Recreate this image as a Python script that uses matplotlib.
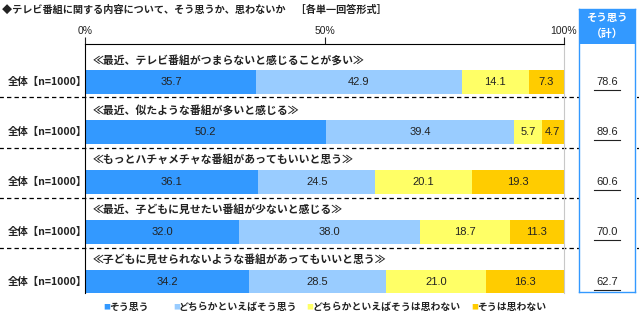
import numpy as np
import matplotlib.pyplot as plt

plt.rcParams['font.family'] = ['Noto Sans CJK JP', 'DejaVu Sans']

# survey items and answer shares (%)
items = [
    "≪最近、テレビ番組がつまらないと感じることが多い≫",
    "≪最近、似たような番組が多いと感じる≫",
    "≪もっとハチャメチャな番組があってもいいと思う≫",
    "≪最近、子どもに見せたい番組が少ないと感じる≫",
    "≪子どもに見せられないような番組があってもいいと思う≫",
]
row_label = "全体【n=1000】"
answers = ["そう思う", "どちらかといえばそう思う", "どちらかといえばそうは思わない", "そうは思わない"]
agree = [35.7, 50.2, 36.1, 32.0, 34.2]
rather_agree = [42.9, 39.4, 24.5, 38.0, 28.5]
rather_disagree = [14.1, 5.7, 20.1, 18.7, 21.0]
disagree = [7.3, 4.7, 19.3, 11.3, 16.3]
colors = ["#3399FF", "#99CCFF", "#FFFF66", "#FFCC00"]

W, H = 639, 322
fig = plt.figure(figsize=(W / 100, H / 100), dpi=100)

def fx(px):
    return px / W

def fy(py):
    return 1 - py / H

# main bar axes (pixel layout: x 85.5..564, y 44..293)
ax = fig.add_axes([fx(85.5), fy(293), fx(564) - fx(85.5), fy(44) - fy(293)])
pitch = 50.0
top_i = (44 - 82) / pitch
bot_i = (293 - 82) / pitch
ax.set_xlim(0, 100)
ax.set_ylim(bot_i, top_i)

series = np.array([agree, rather_agree, rather_disagree, disagree])
rows = np.arange(len(items))
left = np.zeros(len(items))
for vals, c in zip(series, colors):
    ax.barh(rows, vals, left=left, height=0.48, color=c, edgecolor="none")
    for r, v, l in zip(rows, vals, left):
        ax.text(l + v / 2, r, f"{v:.1f}", ha="center", va="center",
                fontsize=8, family="Liberation Sans", color="#222222")
    left += vals

for r, name in zip(rows, items):
    ax.text(1.6, r - 0.44, name, ha="left", va="center", fontsize=7.8,
            fontweight="bold", color="#222222")
    ax.text(0.3, r, row_label, ha="right", va="center", fontsize=7.5,
            fontweight="bold", color="#222222")

# dashed separators across the whole width
for r in rows[:-1]:
    ax.axhline(r + 0.31, xmin=-0.18, xmax=1.16, color="black", lw=0.9,
               ls=(0, (3.5, 2.5)), clip_on=False)

ax.spines["bottom"].set_visible(False)
ax.spines["left"].set_color("black")
ax.spines["top"].set_color("black")
ax.spines["right"].set_color("#C8C8C8")
ax.xaxis.tick_top()
ax.set_xticks([0, 50, 100])
ax.set_xticklabels(["0%", "50%", "100%"], family="Liberation Sans")
ax.tick_params(axis="x", length=5, width=0.8, pad=1, labelsize=7.5, colors="#222222")
ax.set_yticks([])

# total "agree" box on the right
totals = np.array(agree) + np.array(rather_agree)
bx = fig.add_axes([fx(579), fy(292), fx(635) - fx(579), fy(9) - fy(292)])
bx.set_xlim(0, 1)
bx.set_ylim((292 - 82) / pitch, (9 - 82) / pitch)
hdr_bottom = (44 - 82) / pitch
bx.axhspan((9 - 82) / pitch, hdr_bottom, color="#3399FF", lw=0)
bx.text(0.5, (18 - 82) / pitch, "そう思う", ha="center", va="center",
        color="white", fontsize=7.5, fontweight="bold")
bx.text(0.5, (34 - 82) / pitch, "（計）", ha="center", va="center",
        color="white", fontsize=7.8, fontweight="bold")
for r, t in zip(rows, totals):
    bx.text(0.5, r, f"{t:.1f}", ha="center", va="center", fontsize=8,
            family="Liberation Sans", color="#222222")
    bx.plot([0.27, 0.73], [r + 0.16, r + 0.16], color="#222222", lw=0.8)
for s in bx.spines.values():
    s.set_color("#3399FF")
    s.set_linewidth(1.0)
bx.set_xticks([])
bx.set_yticks([])

# title
fig.text(fx(2), fy(10), "◆テレビ番組に関する内容について、そう思うか、思わないか　［各単一回答形式］",
         ha="left", va="center", fontsize=7.3, fontweight="bold", color="#222222")

# legend
leg_x = [103, 173, 306, 471]
for x, name, c in zip(leg_x, answers, colors):
    fig.text(fx(x), fy(307), "■", color=c, fontsize=5, ha="left", va="center")
    fig.text(fx(x + 6), fy(307), name, fontsize=7.1, fontweight="bold",
             ha="left", va="center", color="#222222")

fig.savefig("out.png", dpi=100)
